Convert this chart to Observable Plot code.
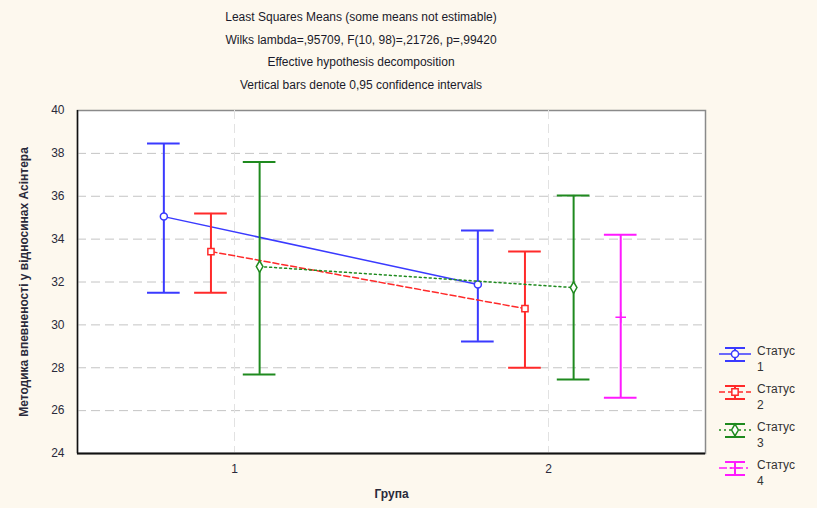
<!DOCTYPE html>
<html>
<head>
<meta charset="utf-8">
<script src="https://cdn.jsdelivr.net/npm/d3@7"></script>
<script src="https://cdn.jsdelivr.net/npm/@observablehq/plot@0.6"></script>
<style>
  html, body { margin: 0; padding: 0; background: #fdf8ee; }
  #wrap { position: relative; width: 817px; height: 508px; background: #fdf8ee; font-family: "Liberation Sans", Arial, sans-serif; overflow: hidden; }
  #titles { position: absolute; left: 0; top: 6px; width: 722px; text-align: center; font-size: 12px; color: #1a1a2a; line-height: 22.7px; }
  #chart { position: absolute; left: 0; top: 0; }
  #legend { position: absolute; left: 717px; top: 343px; font-size: 12px; color: #333; white-space: nowrap; }
  .li { position: relative; height: 38px; }
  .li svg { position: absolute; left: 0; top: 2px; }
  .li .t { position: absolute; left: 40px; top: 0; line-height: 16px; }
</style>
</head>
<body>
<div id="wrap">
  <div id="chart"></div>
  <div id="titles"></div>
  <div id="legend"></div>
</div>
<script>
// ---- data ----
const titleLines = [
  "Least Squares Means (some means not estimable)",
  "Wilks lambda=,95709, F(10, 98)=,21726, p=,99420",
  "Effective hypothesis decomposition",
  "Vertical bars denote 0,95 confidence intervals"
];
const groups = [1, 2];
const statuses = ["1", "2", "3", "4"];
const statusColors = ["#3a3aff", "#ff2a2a", "#1f8a1f", "#ff1aff"];
// per status: means for group 1, group 2 (null = not estimable)
const means = {
  "1": [35.05, 31.88],
  "2": [33.42, 30.76],
  "3": [32.72, 31.74],
  "4": [null, 30.35]
};
const lower = {
  "1": [31.5, 29.23],
  "2": [31.5, 28.0],
  "3": [27.69, 27.45],
  "4": [null, 26.6]
};
const upper = {
  "1": [38.46, 34.4],
  "2": [35.2, 33.42],
  "3": [37.6, 36.04],
  "4": [null, 34.2]
};
const yTicks = [24, 26, 28, 30, 32, 34, 36, 38, 40];
const xLabel = "Група";
const yLabel = "Методика впевненості у відносинах Асінтера";
const legendLabel = "Статус";

// ---- build table ----
const offsets = {"1": -0.225, "2": -0.075, "3": 0.08, "4": 0.23};
const rows = [];
for (const s of statuses) {
  groups.forEach((g, i) => {
    if (means[s][i] == null) return;
    rows.push({status: s, group: g, x: g + offsets[s], mean: means[s][i], lo: lower[s][i], hi: upper[s][i]});
  });
}
const capHalf = 0.052;
const symbols = {"1": "circle", "2": "square", "3": "diamond", "4": "plus"};
const dash = {"1": null, "2": "6,3", "3": "2,3", "4": "8,3,2,3"};

const marks = [
  Plot.frame({fill: "white", stroke: "#8a8a8a", strokeWidth: 1.5}),
  Plot.gridY(yTicks.slice(1, -1), {stroke: "#c4c4c4", strokeOpacity: 1, strokeDasharray: "9,5"}),
  Plot.gridX(groups, {stroke: "#e2e2e2", strokeOpacity: 1, strokeDasharray: "9,5"}),
  Plot.ruleX([0.5], {stroke: "#111", strokeWidth: 1.5}),
  Plot.ruleY([24], {stroke: "#111", strokeWidth: 2}),
];
for (const s of statuses) {
  const d = rows.filter(r => r.status === s);
  const c = statusColors[statuses.indexOf(s)];
  if (d.length > 1) {
    marks.push(Plot.line(d, {x: "x", y: "mean", stroke: c, strokeWidth: 1.5, strokeDasharray: dash[s]}));
  }
  marks.push(
    Plot.ruleX(d, {x: "x", y1: "lo", y2: "hi", stroke: c, strokeWidth: 2}),
    Plot.ruleY(d, {y: "hi", x1: r => r.x - capHalf, x2: r => r.x + capHalf, stroke: c, strokeWidth: 2}),
    Plot.ruleY(d, {y: "lo", x1: r => r.x - capHalf, x2: r => r.x + capHalf, stroke: c, strokeWidth: 2}),
    Plot.dot(d, {x: "x", y: "mean", symbol: symbols[s], r: 3.5, stroke: c, fill: s === "4" ? "none" : "white", strokeWidth: 1.5})
  );
}

const chart = Plot.plot({
  width: 817,
  height: 508,
  marginTop: 110,
  marginBottom: 55,
  marginLeft: 77,
  marginRight: 112,
  style: {background: "transparent", fontFamily: "Liberation Sans, Arial, sans-serif", fontSize: "12px", color: "#2a2a3a"},
  x: {domain: [0.5, 2.5], ticks: groups, tickFormat: d => String(d), tickSize: 0, tickPadding: 11,
      label: xLabel, labelAnchor: "center", labelArrow: "none", labelOffset: 44},
  y: {domain: [24, 40], ticks: yTicks, tickSize: 0, tickPadding: 13,
      label: yLabel, labelAnchor: "center", labelArrow: "none", labelOffset: 58},
  marks
});
// slightly heavier text like the reference
chart.querySelectorAll("[aria-label='y-axis label'] text, [aria-label='x-axis label'] text").forEach(t => t.setAttribute("font-weight", "bold"));
document.getElementById("chart").appendChild(chart);

// titles
const tdiv = document.getElementById("titles");
titleLines.forEach(t => { const e = document.createElement("div"); e.textContent = t; tdiv.appendChild(e); });

// legend
const leg = document.getElementById("legend");
statuses.forEach((s, i) => {
  const c = statusColors[i];
  const item = document.createElement("div");
  item.className = "li";
  const ns = "http://www.w3.org/2000/svg";
  const svg = document.createElementNS(ns, "svg");
  svg.setAttribute("width", 36); svg.setAttribute("height", 20);
  const mk = (tag, attrs) => { const el = document.createElementNS(ns, tag); for (const k in attrs) el.setAttribute(k, attrs[k]); svg.appendChild(el); return el; };
  mk("line", {x1: 2, x2: 34, y1: 9, y2: 9, stroke: c, "stroke-width": 1.5, "stroke-dasharray": dash[s] || ""});
  mk("line", {x1: 8, x2: 28, y1: 3, y2: 3, stroke: c, "stroke-width": 2});
  mk("line", {x1: 8, x2: 28, y1: 16, y2: 16, stroke: c, "stroke-width": 2});
  mk("line", {x1: 18, x2: 18, y1: 3, y2: 16, stroke: c, "stroke-width": 2});
  const sym = d3.symbol(Plot.scale({symbol: {domain: ["a"], range: [symbols[s]]}}).apply("a"), 40)();
  mk("path", {d: sym, transform: "translate(18,9)", fill: s === "4" ? "none" : "white", stroke: c, "stroke-width": 1.5});
  item.appendChild(svg);
  const t = document.createElement("div");
  t.className = "t";
  t.innerHTML = legendLabel + "<br>" + s;
  item.appendChild(t);
  leg.appendChild(item);
});
</script>
</body>
</html>
